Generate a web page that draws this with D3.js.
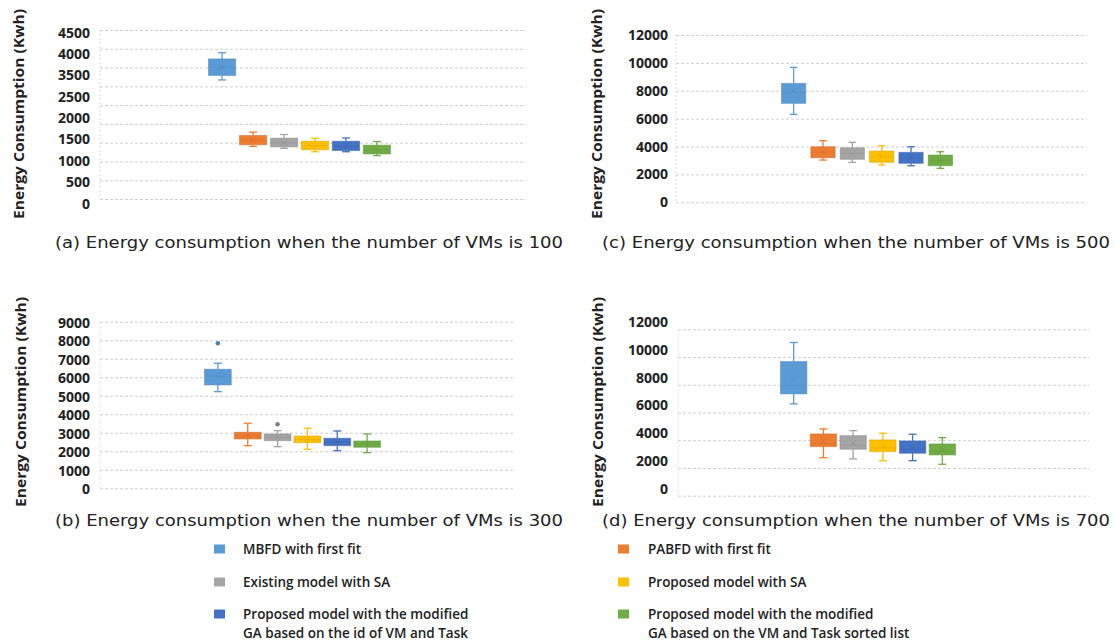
<!DOCTYPE html>
<html><head><meta charset="utf-8">
<script src="https://cdn.jsdelivr.net/npm/d3@7"></script>
<style>body{margin:0;background:#fff}svg{display:block}</style>
</head><body><svg id="c" width="1115" height="642"></svg>
<script>
// ---------- DATA ----------
const seriesNames = [
  "MBFD with first fit",
  "PABFD with first fit",
  "Existing model with SA",
  "Proposed model with SA",
  "Proposed model with the modified GA based on the id of VM and Task",
  "Proposed model with the modified GA based on the VM and Task sorted list"
];
const seriesColors = ["#5B9BD5", "#ED7D31", "#A5A5A5", "#FFC000", "#4472C4", "#70AD47"];

// each row: [min, q1, median, q3, max, mean]
const vm100Stats = [
  [3170, 3290, 3510, 3730, 3895, 3510],
  [1400, 1445, 1570, 1690, 1780, 1570],
  [1349, 1388, 1500, 1620, 1718, 1500],
  [1258, 1312, 1420, 1538, 1617, 1420],
  [1258, 1290, 1400, 1538, 1625, 1410],
  [1155, 1200, 1310, 1433, 1531, 1320]
];
const vm300Stats = [
  [5222, 5584, 6050, 6432, 6757, 6100],
  [2303, 2665, 2850, 3027, 3514, 2850],
  [2249, 2573, 2750, 2935, 3114, 2760],
  [2108, 2465, 2640, 2827, 3243, 2650],
  [2032, 2303, 2500, 2703, 3097, 2510],
  [1924, 2216, 2390, 2557, 2935, 2400]
];
const vm300Outliers = [[7838], [], [3459], [], [], []];
const vm500Stats = [
  [6308, 7097, 7900, 8530, 9677, 7978],
  [3032, 3197, 3600, 3986, 4416, 3620],
  [2867, 3082, 3500, 3914, 4301, 3500],
  [2674, 2867, 3270, 3677, 4057, 3280],
  [2624, 2796, 3190, 3584, 3986, 3200],
  [2437, 2624, 3000, 3391, 3627, 3010]
];
const vm700Stats = [
  [6621, 7343, 7921, 9675, 11047, 8404],
  [2744, 3538, 3750, 4455, 4816, 3950],
  [2650, 3350, 3650, 4332, 4693, 3800],
  [2527, 3177, 3450, 4022, 4505, 3550],
  [2527, 3061, 3350, 3949, 4433, 3450],
  [2267, 2939, 3200, 3733, 4188, 3300]
];
const noOutliers = [[], [], [], [], [], []];

const vm100Ticks = [0, 500, 1000, 1500, 2000, 2500, 3000, 3500, 4000, 4500];
const vm100TickLabels = ["4500", "4000", "3500", "2500", "2000", "1500", "1000", "500", "0"];
const vm300Ticks = [0, 1000, 2000, 3000, 4000, 5000, 6000, 7000, 8000, 9000];
const vm500Ticks = [0, 2000, 4000, 6000, 8000, 10000, 12000];
const vm700Ticks = [0, 2000, 4000, 6000, 8000, 10000, 12000];

const yTitle = "Energy Consumption (Kwh)";
const captions = [
  "(a) Energy consumption when the number of VMs is 100",
  "(b) Energy consumption when the number of VMs is 300",
  "(c) Energy consumption when the number of VMs is 500",
  "(d) Energy consumption when the number of VMs is 700"
];
// legend order: left column then right column
const legendLeft = [0, 2, 4];
const legendRight = [1, 3, 5];

// ---------- LAYOUT ----------
const panels = [
  {stats: vm100Stats, outliers: noOutliers, ticks: vm100Ticks, labels: vm100TickLabels, cap: captions[0],
   px0: 100, px1: 526, yTop: 30, yBot: 199, labX: 90, labRange: [32, 203], band: [208, 391], pad: 0.09,
   tX: 18, tY: 114, cX: 55, cY: 243},
  {stats: vm300Stats, outliers: vm300Outliers, ticks: vm300Ticks, labels: null, cap: captions[1],
   px0: 100, px1: 514, yTop: 321.7, yBot: 488.3, labX: 90, labDy: 1, band: [204, 381], pad: 0.07,
   tX: 20, tY: 402, cX: 55, cY: 521},
  {stats: vm500Stats, outliers: noOutliers, ticks: vm500Ticks, labels: null, cap: captions[2],
   px0: 676, px1: 1087, yTop: 35, yBot: 202.3, labX: 668, labDy: 0, band: [781, 953], pad: 0.14,
   tX: 596, tY: 114, cX: 602, cY: 243},
  {stats: vm700Stats, outliers: noOutliers, ticks: vm700Ticks, labels: null, cap: captions[3],
   px0: 678, px1: 1089, yTop: 329.3, yBot: 495.7, labX: 668, labDy: -7, band: [780, 956], pad: 0.08,
   tX: 597, tY: 402, cX: 602, cY: 521}
];

const svg = d3.select("#c");
const tickFont = "'Open Sans', 'Noto Sans', sans-serif";

panels.forEach(p => {
  const g = svg.append("g");
  const yMax = d3.max(p.ticks);
  const y = d3.scaleLinear().domain([0, yMax]).range([p.yBot, p.yTop]);
  const x = d3.scaleBand().domain(d3.range(seriesNames.length)).range(p.band).paddingInner(p.pad).paddingOuter(0);

  // gridlines via axis
  const grid = g.append("g").attr("transform", `translate(${p.px0},0)`)
    .call(d3.axisLeft(y).tickValues(p.ticks).tickSize(-(p.px1 - p.px0)).tickFormat(""));
  grid.select(".domain").remove();
  grid.selectAll(".tick line").attr("stroke", "#cfcfcf").attr("stroke-dasharray", "3,2").attr("stroke-width", 1);
  // left faint border
  g.append("line").attr("x1", p.px0).attr("x2", p.px0).attr("y1", p.yTop).attr("y2", p.yBot)
    .attr("stroke", "#dcdcdc").attr("stroke-dasharray", "2,2");

  // tick labels
  if (p.labels) {
    const ly = d3.scalePoint().domain(p.labels).range(p.labRange);
    g.selectAll("text.tl").data(p.labels).join("text").attr("class", "tl")
      .attr("x", p.labX).attr("y", d => ly(d)).attr("text-anchor", "end").attr("dominant-baseline", "central")
      .attr("font-family", tickFont).attr("font-weight", 700).attr("font-size", 14).attr("fill", "#222")
      .text(d => d);
  } else {
    const ax = g.append("g").attr("transform", `translate(${p.labX + 3},0)`)
      .call(d3.axisLeft(y).tickValues(p.ticks).tickSize(0).tickPadding(3).tickFormat(d3.format("d")));
    ax.select(".domain").remove();
    ax.selectAll("text").attr("font-family", tickFont).attr("font-weight", 700).attr("font-size", 14)
      .attr("fill", "#222").attr("dy", (0.32) + "em").attr("transform", `translate(0,${p.labDy})`);
  }

  // y title
  g.append("text").attr("transform", `translate(${p.tX},${p.tY}) rotate(-90)`)
    .attr("text-anchor", "middle").attr("dominant-baseline", "central")
    .attr("font-family", tickFont).attr("font-weight", 700).attr("font-size", 14).attr("fill", "#222")
    .attr("textLength", 210).attr("lengthAdjust", "spacingAndGlyphs").text(yTitle);

  // caption
  g.append("text").attr("x", p.cX).attr("y", p.cY).attr("dominant-baseline", "central")
    .attr("font-family", "'DejaVu Sans', sans-serif").attr("font-size", 15).attr("fill", "#222")
    .attr("textLength", 508).attr("lengthAdjust", "spacingAndGlyphs").text(p.cap);

  // boxes
  p.stats.forEach((s, i) => {
    const [mn, q1, md, q3, mx, mean] = s;
    const c = seriesColors[i];
    const dk = d3.color(c).darker(0.5).formatHex();
    const bx = x(i), bw = x.bandwidth(), cx = bx + bw / 2;
    const cap = Math.min(8, bw * 0.3);
    const bg = g.append("g");
    // whiskers
    bg.append("line").attr("x1", cx).attr("x2", cx).attr("y1", y(mx)).attr("y2", y(q3)).attr("stroke", c).attr("stroke-width", 1.3);
    bg.append("line").attr("x1", cx).attr("x2", cx).attr("y1", y(q1)).attr("y2", y(mn)).attr("stroke", c).attr("stroke-width", 1.3);
    bg.append("line").attr("x1", cx - cap / 2).attr("x2", cx + cap / 2).attr("y1", y(mx)).attr("y2", y(mx)).attr("stroke", c).attr("stroke-width", 1.3);
    bg.append("line").attr("x1", cx - cap / 2).attr("x2", cx + cap / 2).attr("y1", y(mn)).attr("y2", y(mn)).attr("stroke", c).attr("stroke-width", 1.3);
    // box
    bg.append("rect").attr("x", bx + 0.5).attr("y", y(q3)).attr("width", bw - 1).attr("height", y(q1) - y(q3))
      .attr("fill", c).attr("stroke", dk).attr("stroke-opacity", 0.5).attr("stroke-width", 1);
    // median
    bg.append("line").attr("x1", bx + 1).attr("x2", bx + bw - 1).attr("y1", y(md)).attr("y2", y(md))
      .attr("stroke", dk).attr("stroke-opacity", 0.35).attr("stroke-width", 1);
    // mean x
    const m = 3;
    bg.append("path").attr("d", `M${cx - m},${y(mean) - m}L${cx + m},${y(mean) + m}M${cx - m},${y(mean) + m}L${cx + m},${y(mean) - m}`)
      .attr("stroke", dk).attr("stroke-opacity", 0.45).attr("stroke-width", 1);
    // outliers
    p.outliers[i].forEach(o => {
      bg.append("circle").attr("cx", cx).attr("cy", y(o)).attr("r", 2.3).attr("fill", i === 2 ? "#7f7f7f" : dk);
    });
  });
});

// ---------- LEGEND ----------
const legFont = "'Open Sans', 'Noto Sans', sans-serif";
const rowY = [549, 582, 614];
function legendCol(idxs, sqX, txX) {
  idxs.forEach((si, r) => {
    const g = svg.append("g");
    g.append("rect").attr("x", sqX).attr("y", rowY[r] - 4.5).attr("width", 11).attr("height", 9).attr("fill", seriesColors[si]);
    const name = seriesNames[si];
    const lines = name.startsWith("Proposed model with the modified")
      ? ["Proposed model with the modified", name.replace("Proposed model with the modified ", "")]
      : [name];
    lines.forEach((ln, k) => {
      g.append("text").attr("x", txX).attr("y", rowY[r] + k * 19).attr("dominant-baseline", "central")
        .attr("font-family", legFont).attr("font-weight", 600).attr("font-size", 13.5).attr("fill", "#222").text(ln);
    });
  });
}
legendCol(legendLeft, 214, 243);
legendCol(legendRight, 618, 648);
</script>
</body></html>
